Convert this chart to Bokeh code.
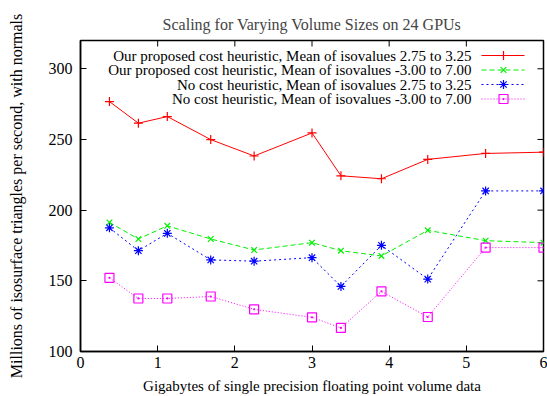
from bokeh.plotting import figure
from bokeh.models import Range1d, FixedTicker, Title
from bokeh.core.properties import value
from bokeh.embed import file_html
from bokeh.resources import INLINE

# Data
sizes_gb = [0.375, 0.75, 1.125, 1.6875, 2.25, 3.0, 3.375, 3.9, 4.5, 5.25, 6.0]
proposed_narrow = [276.8, 261.5, 266.2, 249.9, 238.3, 254.6, 224.3, 222.2, 235.9, 240.1, 241.0]
proposed_wide = [191.3, 179.6, 188.9, 179.6, 171.8, 177.0, 171.3, 167.6, 185.7, 178.4, 177.0]
nocost_narrow = [187.5, 171.3, 183.6, 164.8, 163.9, 166.4, 146.0, 175.1, 151.2, 213.6, 213.6]
nocost_wide = [152.1, 137.5, 137.5, 138.9, 129.8, 124.2, 116.7, 142.5, 124.4, 173.5, 173.5]

series_labels = [
    "Our proposed cost heuristic, Mean of isovalues 2.75 to 3.25",
    "Our proposed cost heuristic, Mean of isovalues -3.00 to 7.00",
    "No cost heuristic, Mean of isovalues 2.75 to 3.25",
    "No cost heuristic, Mean of isovalues -3.00 to 7.00",
]
x_ticks = [0, 1, 2, 3, 4, 5, 6]
y_ticks = [100, 150, 200, 250, 300]

FONT = "Liberation Serif"

XMIN, XMAX = 0, 6
YMIN, YMAX = 100, 320
FRAME_W, FRAME_H = 463, 311
BL, BT, BR, BB = 80, 40, 4, 45

p = figure(width=BL + FRAME_W + BR, height=BT + FRAME_H + BB,
           output_backend="svg", toolbar_location=None,
           x_range=Range1d(XMIN, XMAX), y_range=Range1d(YMIN, YMAX),
           min_border_left=BL, min_border_right=BR, min_border_top=BT, min_border_bottom=BB)
p.title = Title(text="Scaling for Varying Volume Sizes on 24 GPUs", align="center",
                text_font=FONT, text_font_size="16px", text_font_style="normal", standoff=15)
p.grid.visible = False
p.background_fill_color = "white"
p.border_fill_color = "white"
p.outline_line_color = "black"
p.outline_line_width = 1.5

for ax in (p.xaxis[0], p.yaxis[0]):
    ax.axis_line_color = "black"
    ax.axis_line_width = 1.5
    ax.major_tick_in = 6
    ax.major_tick_out = 0
    ax.minor_tick_line_color = None
    ax.major_tick_line_color = "black"
    ax.major_label_text_font = FONT
    ax.major_label_text_font_size = "16px"
    ax.major_label_text_color = "black"
    ax.axis_label_text_font = FONT
    ax.axis_label_text_font_style = "normal"
    ax.axis_label_text_color = "black"

p.xaxis.ticker = FixedTicker(ticks=x_ticks)
p.yaxis.ticker = FixedTicker(ticks=y_ticks)
p.xaxis.axis_label = "Gigabytes of single precision floating point volume data"
p.yaxis.axis_label = "Millions of isosurface triangles per second, with normals"
p.xaxis.axis_label_text_font_size = "15px"
p.yaxis.axis_label_text_font_size = "16px"
p.xaxis.major_label_standoff = 5
p.xaxis.axis_label_standoff = 7
p.yaxis.major_label_standoff = 8
p.yaxis.axis_label_standoff = 21

px_per_x = FRAME_W / (XMAX - XMIN)
px_per_y = FRAME_H / (YMAX - YMIN)

# Mirrored inward ticks on top and right sides (gnuplot style)
tick_len = 6
top_ticks = x_ticks[1:-1]
p.segment(x0=top_ticks, y0=[YMAX] * len(top_ticks), x1=top_ticks,
          y1=[YMAX - tick_len / px_per_y] * len(top_ticks), line_color="black", line_width=1)
right_ticks = y_ticks[1:]
p.segment(x0=[XMAX] * len(right_ticks), y0=right_ticks,
          x1=[XMAX - tick_len / px_per_x] * len(right_ticks), y1=right_ticks,
          line_color="black", line_width=1)

styles = [
    dict(color="#ff0000", dash="solid", marker="cross", size=9, data=proposed_narrow),
    dict(color="#00f000", dash="5 3", marker="x", size=8, data=proposed_wide),
    dict(color="#0000ff", dash="2 3", marker="asterisk", size=9, data=nocost_narrow),
    dict(color="#ff00ff", dash="1 2", marker="square_dot", size=9, data=nocost_wide),
]

for s in styles:
    p.line(sizes_gb, s["data"], line_color=s["color"], line_dash=s["dash"], line_width=1)
    p.scatter(sizes_gb, s["data"], marker=s["marker"], size=s["size"],
              line_color=s["color"], fill_color=None, line_width=1.2)

# Legend (gnuplot style: text right-aligned, sample on the right)
def dx(px):  # frame pixel offset from left -> data x
    return XMIN + px / px_per_x
def dy(py):  # frame pixel offset from top -> data y
    return YMAX - py / px_per_y

text_right = dx(391)
sample_x0, sample_x1, sample_xm = dx(401), dx(444), dx(423)
row_y = [dy(15 + 14.5 * i) for i in range(4)]
for s, lab, ry in zip(styles, series_labels, row_y):
    p.text([text_right], [ry], text=[lab], text_align="right", text_baseline="middle",
           text_font=value(FONT), text_font_size="15px", text_color="black")
    p.line([sample_x0, sample_x1], [ry, ry], line_color=s["color"], line_dash=s["dash"], line_width=1)
    p.scatter([sample_xm], [ry], marker=s["marker"], size=s["size"],
              line_color=s["color"], fill_color=None, line_width=1.2)

open("out.html", "w").write(file_html(p, INLINE))
